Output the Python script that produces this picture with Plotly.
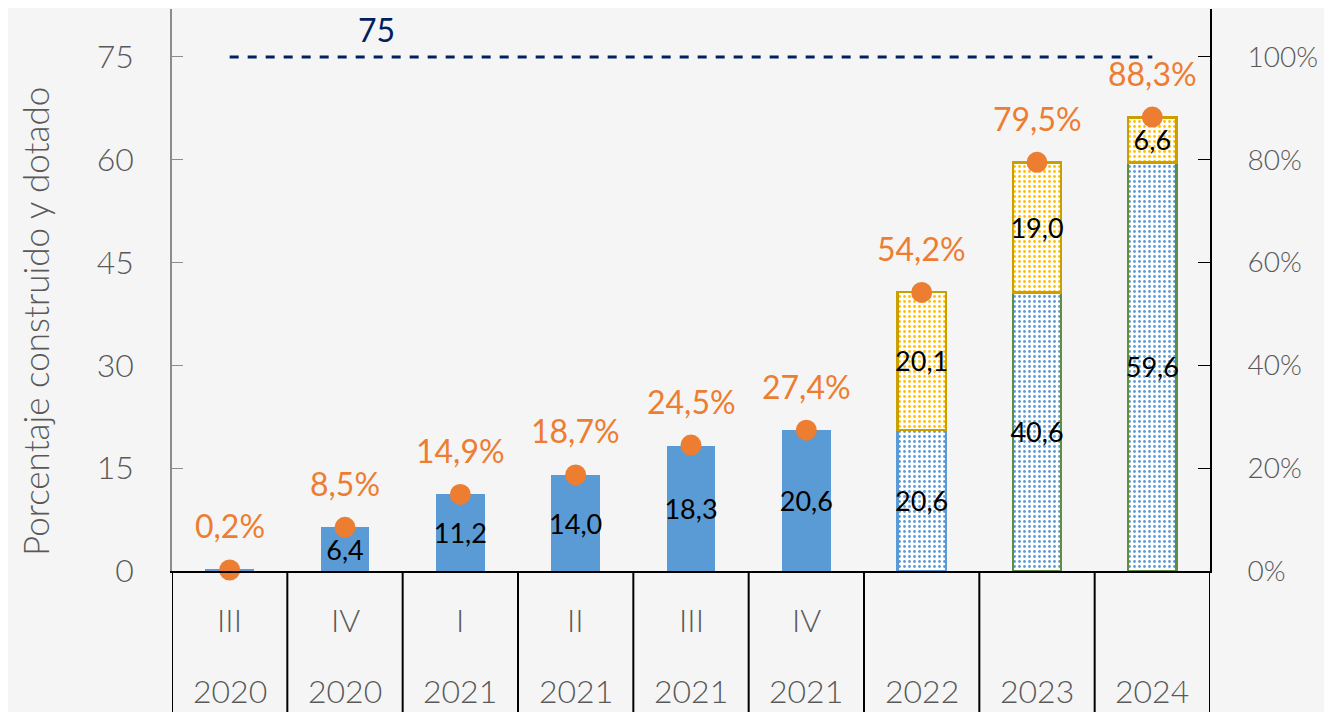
import plotly.graph_objects as go

quarters = ["III", "IV", "I", "II", "III", "IV", "", "", ""]
years = ["2020", "2020", "2021", "2021", "2021", "2021", "2022", "2023", "2024"]
built = [0.2, 6.4, 11.2, 14.0, 18.3, 20.6, None, None, None]
built_dotted = [None, None, None, None, None, None, 20.6, 40.6, 59.6]
added = [None, None, None, None, None, None, 20.1, 19.0, 6.6]
pct = [0.2, 8.5, 14.9, 18.7, 24.5, 27.4, 54.2, 79.5, 88.3]
target = 75

cats = [("T" + q + " " + y) if q else ("A " + y) for q, y in zip(quarters, years)]

font = "Lato"
gray = "#595959"
blue = "#5B9BD5"
orange = "#ED7D31"


def fmt(v, suffix=""):
    return "" if v is None else f"{v:.1f}".replace(".", ",") + suffix


def lbl(size, color, weight=300):
    return dict(family=font, size=size, color=color, weight=weight)


fig = go.Figure()

fig.add_trace(go.Bar(
    x=cats, y=built, width=0.42,
    marker=dict(color=blue, line=dict(width=0)),
    text=[fmt(v) if v and v > 1 else "" for v in built],
    textposition="inside", insidetextanchor="middle", constraintext="none", textangle=0,
    textfont=lbl(27, "#000000", 400),
    showlegend=False, hoverinfo="skip",
))

fig.add_trace(go.Bar(
    x=cats, y=built_dotted, width=0.42,
    marker=dict(
        color="#ffffff",
        pattern=dict(shape=".", fgcolor=blue, bgcolor="#ffffff", size=5, solidity=0.25, fillmode="replace"),
        line=dict(color=[blue] * 7 + ["#5E8F3E"] * 2, width=2.5),
    ),
    text=[fmt(v) for v in built_dotted],
    textposition="inside", insidetextanchor="middle", constraintext="none", textangle=0,
    textfont=lbl(27, "#000000", 400),
    showlegend=False, hoverinfo="skip",
))

fig.add_trace(go.Bar(
    x=cats, y=added, width=0.42,
    marker=dict(
        color="#ffffff",
        pattern=dict(shape=".", fgcolor="#FFC000", bgcolor="#ffffff", size=5, solidity=0.25, fillmode="replace"),
        line=dict(color="#C9A000", width=2.5),
    ),
    text=[fmt(v) for v in added],
    textposition="inside", insidetextanchor="middle", constraintext="none", textangle=0,
    textfont=lbl(27, "#000000", 400),
    showlegend=False, hoverinfo="skip",
))

fig.add_trace(go.Scatter(
    x=[cats[0], cats[-1]], y=[target, target], mode="lines",
    line=dict(color="#002060", width=3, dash="dash"),
    showlegend=False, hoverinfo="skip",
))

fig.add_trace(go.Scatter(
    x=cats, y=pct, yaxis="y2", mode="markers",
    marker=dict(color=orange, size=21),
    cliponaxis=False, showlegend=False, hoverinfo="skip",
))

annotations = [dict(
    x=1.27, y=target, xref="x", yref="y", yshift=27,
    text=str(target), showarrow=False,
    font=lbl(32, "#002060", 400),
)]
for c, v in zip(cats, pct):
    annotations.append(dict(x=c, y=v, xref="x", yref="y2", yshift=44, yanchor="middle",
                            text=fmt(v, "%"), showarrow=False, font=lbl(32, orange, 400)))
for i, (q, y) in enumerate(zip(quarters, years)):
    annotations.append(dict(x=i, y=-0.087, xref="x", yref="paper", text=q, showarrow=False,
                            yanchor="middle", font=lbl(32, gray)))
    annotations.append(dict(x=i, y=-0.212, xref="x", yref="paper", text=y, showarrow=False,
                            yanchor="middle", font=lbl(32, gray)))
annotations.append(dict(
    x=-0.132, y=0.445, xref="paper", yref="paper", xanchor="center", yanchor="middle",
    text="Porcentaje construido y dotado",
    textangle=-90, showarrow=False, font=lbl(35, gray),
))

shapes = []
for i in range(len(cats) + 1):
    shapes.append(dict(type="line", xref="x", yref="paper", x0=i - 0.5, x1=i - 0.5,
                       y0=0, y1=-0.26, line=dict(color="#000000", width=2)))

# page body has an 8px margin, so the figure is shrunk by that much
fig.update_layout(
    width=1324, height=704,
    margin=dict(l=164, r=122, t=1, b=141),
    barmode="stack",
    paper_bgcolor="#f5f5f5", plot_bgcolor="rgba(0,0,0,0)",
    annotations=annotations, shapes=shapes,
    xaxis=dict(range=[-0.5, 8.5], showticklabels=False, showgrid=False, zeroline=False,
               showline=True, linecolor="#000000", linewidth=2, ticks=""),
    yaxis=dict(range=[0, 82], tickvals=[0, 15, 30, 45, 60, 75], showgrid=False, zeroline=False,
               showline=True, linecolor="#8c8c8c", linewidth=1.5,
               ticks="inside", ticklen=11, tickcolor="#8c8c8c",
               ticklabelstandoff=30,
               tickfont=lbl(32, gray)),
    yaxis2=dict(range=[0, 82 / 75 * 100], tickvals=[0, 20, 40, 60, 80, 100],
                ticktext=[f"{v}%" for v in [0, 20, 40, 60, 80, 100]],
                overlaying="y", side="right", showgrid=False, zeroline=False,
                showline=True, linecolor="#000000", linewidth=2,
                ticks="inside", ticklen=12, tickcolor="#000000",
                ticklabelstandoff=30,
                tickfont=lbl(28, gray)),
)

fig.write_html("out.html")
